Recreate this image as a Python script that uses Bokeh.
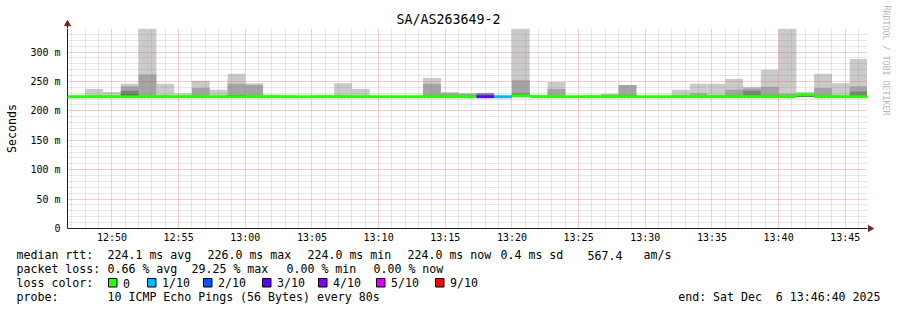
from datetime import datetime, timedelta
from bokeh.plotting import figure
from bokeh.layouts import column, row
from bokeh.models import (FixedTicker, DatetimeTickFormatter, Range1d, ColumnDataSource)
from bokeh.core.properties import value
from bokeh.embed import file_html
from bokeh.resources import INLINE

# ---------------- data ----------------
TITLE = "SA/AS263649-2"
START = datetime(2025, 12, 6, 12, 46, 40)
END = datetime(2025, 12, 6, 13, 46, 40)
STEP_S = 80

# per 80 s slot, milliseconds
ping_min = [223.5] * 45
median_ms = [224, 224, 224, 224, 224, 224, 224, 224, 224, 224,
             224, 224, 224, 224, 224, 224, 224, 224, 224, 224,
             224, 224, 224, 224, 224, 225.5, 224, 224, 224, 224,
             224, 224, 224, 224, 224, 224, 224, 224, 224, 224,
             224, 227, 224, 224, 224]
loss_of_10 = [0] * 23 + [3, 1] + [0] * 20
ping_p10 = [224, 237, 232, 246, 340, 246, 230, 251, 236, 263,
            247, 228, 226, 225, 227, 247, 237, 224, 224, 225,
            256, 232, 230, 230, 224, 340, 227, 249, 225, 227,
            229, 244, 224, 224, 236, 246, 246, 254, 241, 270,
            340, 232, 263, 247, 288]
ping_p9 = [224, 226, 225, 242, 262, 226, 225, 239, 225, 246,
           244, 225, 224, 224, 225, 226, 225, 224, 224, 224,
           246, 230, 229, 230, 224, 252, 226, 237, 224, 225,
           228, 244, 224, 224, 227, 230, 227, 236, 238, 241,
           229, 228, 239, 226, 242]
ping_p8 = [224, 224, 224, 234, 225, 224, 224, 225, 224, 227,
           225, 224, 224, 224, 224, 224, 224, 224, 224, 224,
           226, 226, 226, 230, 224, 230, 224, 225, 224, 224,
           225, 227, 224, 224, 224, 225, 225, 226, 234, 227,
           225, 226, 226, 224, 233]
ping_p7 = [224, 224, 224, 228, 224, 224, 224, 224, 224, 226.5,
           224, 224, 224, 224, 224, 224, 224, 224, 224, 224,
           224, 224, 224, 224, 224, 226, 224, 224, 224, 224,
           224, 224, 224, 224, 224, 224, 224, 224, 224, 225,
           224, 226, 224, 224, 226]

Y_TICKS = [0, 50, 100, 150, 200, 250, 300]
Y_TICK_LABELS = ["0", "50 m", "100 m", "150 m", "200 m", "250 m", "300 m"]
X_TICK_LABELS = ["12:50", "12:55", "13:00", "13:05", "13:10", "13:15",
                 "13:20", "13:25", "13:30", "13:35", "13:40", "13:45"]

LOSS_LABELS = ["0", "1/10", "2/10", "3/10", "4/10", "5/10", "9/10"]
LOSS_COLORS = ["#26ff00", "#00b8ff", "#0059ff", "#5e00ff", "#7e00ff", "#dd00ff", "#ff0000"]
SMOKE_COLORS = ["#cacaca", "#a4a4a4", "#7e7e7e", "#585858"]

LINE1 = ["median rtt:", "224.1 ms avg", "226.0 ms max", "224.0 ms min",
         "224.0 ms now", "0.4 ms sd", "567.4", "am/s"]
LINE2 = ["packet loss:", "0.66 % avg", "29.25 % max", "0.00 % min", "0.00 % now"]
LINE3_HEAD = "loss color:"
LINE4 = ["probe:", "10 ICMP Echo Pings (56 Bytes) every 80s"]
END_TEXT = ["end: Sat Dec", "6 13:46:40 2025"]
CREDIT = "RRDTOOL / TOBI OETIKER"

# ---------------- layout constants ----------------
W, H = 897, 310
FL = 67            # frame left
FRAME_R = 867      # frame right
FT = 28            # frame top
FRAME_B = 228      # frame bottom
MAIN_H = 248       # height of the top block
TOP_L = 60         # left border of the title strip
MONO = "DejaVu Sans Mono"
AXIS_COL = "#1f1f1f"
ARROW_COL = "#7f1f1f"


def blank(w, h, xr, yr, left=0):
    f = figure(width=w, height=h, output_backend="svg", toolbar_location=None,
               x_axis_location=None, y_axis_location=None, title=None,
               x_range=Range1d(*xr), y_range=Range1d(*yr),
               min_border=0, min_border_left=left)
    f.grid.visible = False
    f.outline_line_color = None
    f.background_fill_color = "white"
    f.border_fill_color = "white"
    return f


# ---------------- main plot ----------------
p = figure(width=FRAME_R, height=MAIN_H - FT, x_axis_type="datetime", output_backend="svg",
           toolbar_location=None, title=None,
           x_range=Range1d(START, END), y_range=Range1d(0, 340),
           min_border_left=FL, min_border_right=0, min_border_top=0,
           min_border_bottom=MAIN_H - FRAME_B)
p.outline_line_color = None
p.background_fill_color = "white"
p.border_fill_color = "white"


def to_ms(dt):
    return (dt - datetime(1970, 1, 1)).total_seconds() * 1000.0


day = START.date()
xt = [datetime.combine(day, datetime.strptime(s, "%H:%M").time()) for s in X_TICK_LABELS]
x_major = [to_ms(t) for t in xt]
x_minor = []
t = datetime(2025, 12, 6, 12, 47)
while t <= END:
    if t not in xt:
        x_minor.append(to_ms(t))
    t += timedelta(minutes=1)
p.xaxis.ticker = FixedTicker(ticks=x_major, minor_ticks=x_minor)
fmt = "%H:%M"
p.xaxis.formatter = DatetimeTickFormatter(seconds=fmt, minsec=fmt, minutes=fmt,
                                          hourmin=fmt, hours=fmt)
y_minor = [v for v in range(10, 340, 10) if v % 50 != 0]
p.yaxis.ticker = FixedTicker(ticks=Y_TICKS, minor_ticks=y_minor)
p.yaxis.major_label_overrides = {v: s for v, s in zip(Y_TICKS, Y_TICK_LABELS)}

for ax in (p.xaxis[0], p.yaxis[0]):
    ax.axis_line_color = AXIS_COL
    ax.axis_line_width = 1
    ax.major_tick_in = 0
    ax.major_tick_out = 0
    ax.minor_tick_in = 0
    ax.minor_tick_out = 0
    ax.major_label_text_font = MONO
    ax.major_label_text_font_size = "10px"
    ax.major_label_text_color = "black"
p.yaxis.major_label_standoff = 7
p.xaxis.major_label_standoff = 3
p.yaxis.axis_label = "Seconds"
p.yaxis.axis_label_text_font = MONO
p.yaxis.axis_label_text_font_size = "11.6px"
p.yaxis.axis_label_text_font_style = "normal"
p.yaxis.axis_label_text_color = "black"
p.yaxis.axis_label_standoff = 8

for g in (p.xgrid[0], p.ygrid[0]):
    g.grid_line_color = "#de4f4f"
    g.grid_line_alpha = 0.55
    g.grid_line_dash = "1 1"
    g.minor_grid_line_color = "#8f8f8f"
    g.minor_grid_line_alpha = 0.45
    g.minor_grid_line_dash = "1 1"
    g.level = "glyph"

left = [START + timedelta(seconds=STEP_S * i) for i in range(len(median_ms))]
right = [START + timedelta(seconds=STEP_S * (i + 1)) for i in range(len(median_ms))]


def loss_idx(n):
    if n <= 4:
        return n
    if n <= 8:
        return 5
    return 6


src = ColumnDataSource(dict(left=left, right=right, low=ping_min,
                            p10=ping_p10, p9=ping_p9, p8=ping_p8, p7=ping_p7,
                            med=median_ms,
                            lc=[LOSS_COLORS[loss_idx(n)] for n in loss_of_10]))
for top, col in zip(["p10", "p9", "p8", "p7"], SMOKE_COLORS):
    r = p.quad(left="left", right="right", bottom="low", top=top, source=src,
               fill_color=col, line_color=None)
    r.level = "underlay"
rm = p.segment(x0="left", x1="right", y0="med", y1="med", source=src,
               line_color="lc", line_width=3)
rm.level = "annotation"

# ---------------- title strip (above the frame) ----------------
top_fig = blank(FRAME_R, FT, (TOP_L, FRAME_R), (FT, 0), left=TOP_L)
top_fig.text(x=[448], y=[19], text=[TITLE], text_font=value(MONO),
             text_font_size=value("13.3px"), text_align="center", text_baseline="middle",
             text_color="black")
top_fig.segment(x0=[FL], x1=[FL], y0=[FT], y1=[24], line_color=AXIS_COL, line_width=1)
top_fig.scatter(x=[FL], y=[23.5], marker="triangle", size=6, color=ARROW_COL)

# ---------------- right strip ----------------
right_fig = blank(W - FRAME_R, MAIN_H, (FRAME_R, W), (MAIN_H, 0))
right_fig.text(x=[886], y=[5], text=[CREDIT], text_font=value(MONO),
               text_font_size=value("8.3px"), text_align="left", text_baseline="middle",
               angle=-1.5708, text_color="#b8b8b8")
right_fig.segment(x0=[FRAME_R], x1=[869], y0=[FRAME_B], y1=[FRAME_B], line_color=AXIS_COL)
right_fig.scatter(x=[869.5], y=[FRAME_B], marker="triangle", angle=-1.5708, size=6,
                  color=ARROW_COL)

# ---------------- legend strip ----------------
leg = blank(W, H - MAIN_H, (0, W), (H, MAIN_H))
l1x = [16, 107, 207, 307, 407, 500, 587, 643]
l2x = [16, 107, 191, 286, 373]
l4x = [16, 107]
box_x = [108, 147, 203, 262, 318, 376, 435]
tx, ty, tt, ta = [], [], [], []
for s, x in zip(LINE1, l1x):
    tx.append(x); ty.append(254.5); tt.append(s); ta.append("left")
for s, x in zip(LINE2, l2x):
    tx.append(x); ty.append(268.5); tt.append(s); ta.append("left")
tx.append(16); ty.append(282.5); tt.append(LINE3_HEAD); ta.append("left")
for s, x in zip(LOSS_LABELS, box_x):
    tx.append(x + 14.5); ty.append(282.5); tt.append(s); ta.append("left")
for s, x in zip(LINE4, l4x):
    tx.append(x); ty.append(296.5); tt.append(s); ta.append("left")
tx += [677.7, 880]; ty += [296.5, 296.5]; tt += END_TEXT; ta += ["left", "right"]
leg.text(x="x", y="y", text="t", text_align="a",
         source=ColumnDataSource(dict(x=tx, y=ty, t=tt, a=ta)),
         text_font=value(MONO), text_font_size=value("11.6px"),
         text_baseline="middle", text_color="black")
leg.quad(left=box_x, right=[b + 8.5 for b in box_x],
         top=[278] * len(box_x), bottom=[286.5] * len(box_x),
         fill_color=LOSS_COLORS, line_color="black", line_width=1)

layout = column(row(column(row(top_fig), p), right_fig), leg)
open("out.html", "w").write(file_html(layout, INLINE))
